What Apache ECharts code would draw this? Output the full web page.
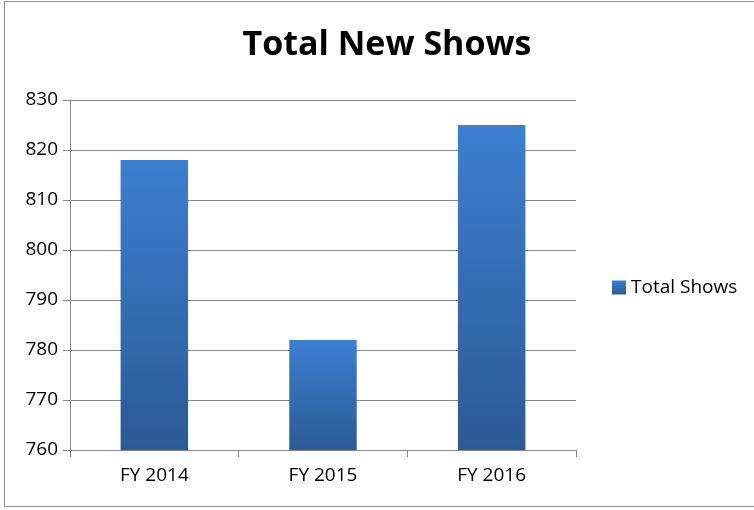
<!DOCTYPE html>
<html>
<head>
<meta charset="utf-8">
<script src="https://cdn.jsdelivr.net/npm/echarts@6/dist/echarts.min.js"></script>
<style>
  html, body { margin: 0; padding: 0; background: #fff; }
  #frame { position: absolute; left: 4px; top: 1px; width: 760px; height: 506px; border: 1px solid #8c8c8c; box-sizing: border-box; }
  #chart { width: 754px; height: 510px; }
</style>
</head>
<body>
<div id="frame"></div>
<div id="chart"></div>
<script>
  const categories = ["FY 2014", "FY 2015", "FY 2016"];
  const totalShows = [818, 782, 825];
  const seriesName = "Total Shows";

  const chart = echarts.init(document.getElementById("chart"));
  const barColor = new echarts.graphic.LinearGradient(0, 0, 0, 1, [
    { offset: 0, color: "#3c7fd0" },
    { offset: 1, color: "#2c5a95" },
  ]);
  chart.setOption({
    animation: false,
    textStyle: { fontFamily: "Open Sans" },
    title: {
      text: "Total New Shows",
      left: 382,
      textAlign: "center",
      top: 23,
      textStyle: { fontSize: 34, fontWeight: "bold", color: "#000", fontFamily: "Open Sans" },
    },
    legend: {
      orient: "vertical",
      left: 607,
      top: 273,
      icon: "rect",
      itemWidth: 14,
      itemHeight: 14,
      itemGap: 6,
      textStyle: { fontSize: 19, color: "#000" },
      data: [seriesName],
    },
    grid: { left: 70, right: 178, top: 100, bottom: 60 },
    xAxis: {
      type: "category",
      data: categories,
      axisLine: { lineStyle: { color: "#868686", width: 1 } },
      axisTick: { show: true, length: 7, alignWithLabel: false, lineStyle: { color: "#868686" } },
      axisLabel: { fontSize: 19, color: "#000", margin: 16 },
    },
    yAxis: {
      type: "value",
      min: 760,
      max: 830,
      interval: 10,
      axisLine: { show: true, lineStyle: { color: "#868686" } },
      axisTick: { show: true, length: 7, lineStyle: { color: "#868686" } },
      axisLabel: { fontSize: 19, color: "#000", margin: 12 },
      splitLine: { lineStyle: { color: "#868686" } },
    },
    series: [
      {
        name: seriesName,
        type: "bar",
        data: totalShows,
        barWidth: "40%",
        itemStyle: { color: barColor },
      },
    ],
  });
</script>
</body>
</html>
